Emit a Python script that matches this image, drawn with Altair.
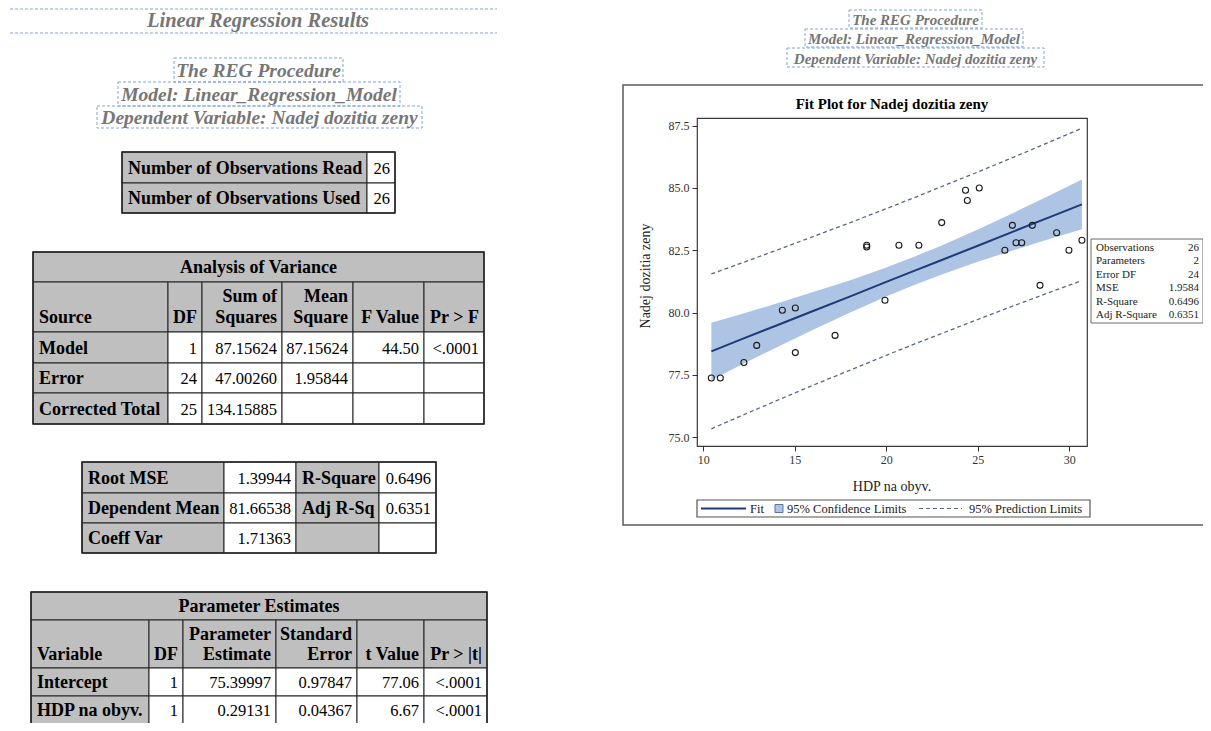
import altair as alt
import pandas as pd

# ---------------- data ----------------
hdp = [10.44, 10.93, 12.22, 12.92, 14.32, 15.03, 15.03, 17.20, 18.93, 18.93, 19.93, 20.69, 21.78,
       23.03, 24.33, 24.43, 25.08, 26.48, 26.89, 27.09, 27.40, 27.98, 28.40, 29.31, 29.98, 30.69]
life = [77.37, 77.37, 77.99, 78.68, 80.09, 80.18, 78.39, 79.08, 82.70, 82.63, 80.49, 82.70, 82.70,
        83.61, 84.91, 84.50, 85.00, 82.50, 83.50, 82.80, 82.80, 83.50, 81.09, 83.20, 82.50, 82.90]

grid_x = [10.44, 12, 14, 16, 18, 20, 21.52, 23, 25, 27, 29, 30.69]
fit_y = [78.44, 78.90, 79.48, 80.06, 80.64, 81.23, 81.67, 82.10, 82.68, 83.27, 83.85, 84.34]
ci_lo = [77.29, 77.87, 78.60, 79.31, 79.99, 80.64, 81.10, 81.52, 82.04, 82.51, 82.97, 83.34]
ci_hi = [79.59, 79.92, 80.36, 80.82, 81.29, 81.81, 82.24, 82.68, 83.33, 84.02, 84.73, 85.34]
pi_lo = [75.33, 75.83, 76.46, 77.08, 77.68, 78.28, 78.73, 79.15, 79.72, 80.28, 80.83, 81.28]
pi_hi = [81.55, 81.96, 82.50, 83.05, 83.60, 84.17, 84.61, 85.05, 85.64, 86.25, 86.87, 87.40]

x_ticks = [10, 15, 20, 25, 30]
y_ticks = [75.0, 77.5, 80.0, 82.5, 85.0, 87.5]

stat_labels = ["Observations", "Parameters", "Error DF", "MSE", "R-Square", "Adj R-Square"]
stat_values = ["26", "2", "24", "1.9584", "0.6496", "0.6351"]

obs_labels = ["Number of Observations Read", "Number of Observations Used"]
obs_values = ["26", "26"]

anova_headers = ["Source", "DF", "Sum of\nSquares", "Mean\nSquare", "F Value", "Pr > F"]
anova_sources = ["Model", "Error", "Corrected Total"]
anova_df = ["1", "24", "25"]
anova_ss = ["87.15624", "47.00260", "134.15885"]
anova_ms = ["87.15624", "1.95844", ""]
anova_f = ["44.50", "", ""]
anova_p = ["<.0001", "", ""]

fit_labels_a = ["Root MSE", "Dependent Mean", "Coeff Var"]
fit_values_a = ["1.39944", "81.66538", "1.71363"]
fit_labels_b = ["R-Square", "Adj R-Sq", ""]
fit_values_b = ["0.6496", "0.6351", ""]

pe_headers = ["Variable", "DF", "Parameter\nEstimate", "Standard\nError", "t Value", "Pr > |t|"]
pe_vars = ["Intercept", "HDP na obyv."]
pe_df = ["1", "1"]
pe_est = ["75.39997", "0.29131"]
pe_se = ["0.97847", "0.04367"]
pe_t = ["77.06", "6.67"]
pe_p = ["<.0001", "<.0001"]

main_title = "Linear Regression Results"
proc_titles = ["The REG Procedure", "Model: Linear_Regression_Model", "Dependent Variable: Nadej dozitia zeny"]
plot_title = "Fit Plot for Nadej dozitia zeny"
x_title = "HDP na obyv."
y_title = "Nadej dozitia zeny"
legend_labels = ["Fit", "95% Confidence Limits", "95% Prediction Limits"]

# ---------------- layout / style ----------------
PX0, PY0 = 697, 118          # page position of the plot area
W, H = 390, 328
FONT = "Liberation Serif"
GRAY = "#bfbfbf"
WHITE = "#ffffff"
BORDER = "#222222"
TITLE_GRAY = "#767676"
DASH_BLUE = "#7ea6e2"
NAVY = "#1f3a78"
BAND = "#adc4e4"
PRED = "#58678a"

rects, hollow, dboxes, rules, texts = [], [], [], [], []


def cell(x0, x1, y0, y1, fill, stroke=BORDER, sw=1.0):
    rects.append(dict(x=x0 - PX0, x2=x1 - PX0, y=y0 - PY0, y2=y1 - PY0, fill=fill, stroke=stroke, sw=sw))


def frame(x0, x1, y0, y1, stroke=BORDER, sw=1.5):
    hollow.append(dict(x=x0 - PX0, x2=x1 - PX0, y=y0 - PY0, y2=y1 - PY0, stroke=stroke, sw=sw))


def dbox(x0, x1, y0, y1):
    dboxes.append(dict(x=x0 - PX0, x2=x1 - PX0, y=y0 - PY0, y2=y1 - PY0))


def txt(x, y, t, align="left", weight="normal", style="normal", size=16.5, color="#000000", angle=0):
    if t == "":
        return
    texts.append(dict(x=x - PX0, y=y - PY0, text=t, align=align, weight=weight, style=style,
                      size=size, color=color, angle=angle))


BOLD = 18
REG = 16.5


def table(cols, rows_y, title, headers, body, line_gap=20.5, head_pad=14.5):
    r = 0
    if title:
        cell(cols[0], cols[-1], rows_y[0], rows_y[1], GRAY)
        txt((cols[0] + cols[-1]) / 2, (rows_y[0] + rows_y[1]) / 2 + 1, title, "center", "bold", size=BOLD)
        r = 1
    if headers:
        y0, y1 = rows_y[r], rows_y[r + 1]
        for j, h in enumerate(headers):
            cell(cols[j], cols[j + 1], y0, y1, GRAY)
            for k, line in enumerate(reversed(h.split("\n"))):
                yy = y1 - head_pad - k * line_gap
                if j == 0:
                    txt(cols[j] + 6, yy, line, "left", "bold", size=BOLD)
                else:
                    txt(cols[j + 1] - 5, yy, line, "right", "bold", size=BOLD)
        r += 1
    for i, row in enumerate(body):
        y0, y1 = rows_y[r + i], rows_y[r + i + 1]
        ym = (y0 + y1) / 2 + 1
        for j, (val, kind) in enumerate(row):
            if kind == "label":
                cell(cols[j], cols[j + 1], y0, y1, GRAY)
                txt(cols[j] + 6, ym, val, "left", "bold", size=BOLD)
            else:
                cell(cols[j], cols[j + 1], y0, y1, WHITE)
                txt(cols[j + 1] - 5, ym, val, "right", "normal", size=REG)
    frame(cols[0], cols[-1], rows_y[0], rows_y[-1])


# left titles
rules.append(dict(x=10 - PX0, x2=497 - PX0, y=9 - PY0))
rules.append(dict(x=10 - PX0, x2=497 - PX0, y=33 - PY0))
txt(258, 21, main_title, "center", "bold", "italic", 20.5, TITLE_GRAY)
left_boxes = [(174, 343, 58, 82), (118, 400, 82, 106), (97, 422, 106, 128)]
for t, (a, b, c, d) in zip(proc_titles, left_boxes):
    dbox(a, b, c, d)
    txt((a + b) / 2, (c + d) / 2 + 1, t, "center", "bold", "italic", 19.5, TITLE_GRAY)

# right titles
right_boxes = [(849, 982, 10, 28), (805, 1023, 29, 47), (787, 1044, 48, 67)]
for t, (a, b, c, d) in zip(proc_titles, right_boxes):
    dbox(a, b, c, d)
    txt((a + b) / 2, (c + d) / 2 + 1, t, "center", "bold", "italic", 15, TITLE_GRAY)

# tables
table([122, 367, 395], [152, 183, 213], None, None,
      [[(l, "label"), (v, "val")] for l, v in zip(obs_labels, obs_values)])
table([33, 168, 202, 282, 353, 424, 484], [252, 282, 332, 363, 393, 424], "Analysis of Variance",
      anova_headers,
      [[(s, "label"), (d, "val"), (ss, "val"), (ms, "val"), (f, "val"), (p, "val")]
       for s, d, ss, ms, f, p in zip(anova_sources, anova_df, anova_ss, anova_ms, anova_f, anova_p)])
table([82, 224, 296, 379, 436], [462, 493, 523, 553], None, None,
      [[(a, "label"), (va, "val"), (b, "label"), (vb, "val")]
       for a, va, b, vb in zip(fit_labels_a, fit_values_a, fit_labels_b, fit_values_b)])
table([31, 149, 183, 276, 357, 424, 487], [592, 620, 668, 696, 724], "Parameter Estimates",
      pe_headers,
      [[(v, "label"), (d, "val"), (e, "val"), (s, "val"), (t, "val"), (p, "val")]
       for v, d, e, s, t, p in zip(pe_vars, pe_df, pe_est, pe_se, pe_t, pe_p)], line_gap=20, head_pad=13.5)

# plot frame, titles
frame(623, 1207, 85, 525, stroke="#5a5a5a", sw=1.5)
txt(892, 104, plot_title, "center", "bold", size=15)
txt(892, 487, x_title, "center", size=14, color="#222222")
txt(646, 276, y_title, "center", size=14, color="#222222", angle=270)

# stats inset
cell(1091, 1203, 239, 323, WHITE, stroke="#6a6a6a", sw=1)
for i, (l, v) in enumerate(zip(stat_labels, stat_values)):
    yy = 247.5 + i * 13.5
    txt(1096, yy, l, "left", size=11, color="#222222")
    txt(1199, yy, v, "right", size=11, color="#222222")

# legend
cell(697, 1090, 500, 517, WHITE, stroke="#555555", sw=1.2)
cell(775, 783, 504.5, 512.5, BAND, stroke="#5d74a0", sw=1)
txt(750, 509, legend_labels[0], "left", size=12.5, color="#222222")
txt(787, 509, legend_labels[1], "left", size=12.5, color="#222222")
txt(969, 509, legend_labels[2], "left", size=12.5, color="#222222")
leg_solid = pd.DataFrame([dict(x=701 - PX0, x2=746 - PX0, y=508.5 - PY0)])
leg_dash = pd.DataFrame([dict(x=919 - PX0, x2=962 - PX0, y=508.5 - PY0)])

# ---------------- chart ----------------
xs = alt.Scale(domain=[9.656, 30.968], nice=False, zero=False)
ys = alt.Scale(domain=[74.64, 87.81], nice=False, zero=False)
x_axis = alt.Axis(values=x_ticks, title=None, grid=False, domain=False, tickSize=5, labelPadding=3,
                  format="d", labelFlush=False, labelOverlap=False)
y_axis = alt.Axis(values=y_ticks, title=None, grid=False, domain=False, tickSize=5, labelPadding=3,
                  format=".1f", labelFlush=False, labelOverlap=False)

pts = pd.DataFrame(dict(x=hdp, y=life))
curve = pd.DataFrame(dict(x=grid_x, fit=fit_y, ci_lo=ci_lo, ci_hi=ci_hi, pi_lo=pi_lo, pi_hi=pi_hi))

PXX = lambda f: alt.X(f"{f}:Q", scale=None, axis=None)
PXY = lambda f: alt.Y(f"{f}:Q", scale=None, axis=None)

rect_df = pd.DataFrame(rects)
hollow_df = pd.DataFrame(hollow)
dbox_df = pd.DataFrame(dboxes)
rule_df = pd.DataFrame(rules)
text_df = pd.DataFrame(texts)

layers = []
layers.append(alt.Chart(rect_df).mark_rect().encode(
    x=PXX("x"), x2="x2", y=PXY("y"), y2="y2",
    fill=alt.Fill("fill:N", scale=None, legend=None),
    stroke=alt.Stroke("stroke:N", scale=None, legend=None),
    strokeWidth=alt.StrokeWidth("sw:Q", scale=None, legend=None)))
layers.append(alt.Chart(hollow_df).mark_rect(fill="transparent").encode(
    x=PXX("x"), x2="x2", y=PXY("y"), y2="y2",
    stroke=alt.Stroke("stroke:N", scale=None, legend=None),
    strokeWidth=alt.StrokeWidth("sw:Q", scale=None, legend=None)))
layers.append(alt.Chart(dbox_df).mark_rect(fill="transparent", stroke=DASH_BLUE, strokeWidth=1,
                                           strokeDash=[3, 2]).encode(
    x=PXX("x"), x2="x2", y=PXY("y"), y2="y2"))
layers.append(alt.Chart(rule_df).mark_rule(stroke=DASH_BLUE, strokeWidth=1, strokeDash=[3, 2]).encode(
    x=PXX("x"), x2="x2", y=PXY("y")))

base = alt.Chart(curve)
layers.append(base.mark_area(color=BAND, opacity=1).encode(
    x=alt.X("x:Q", scale=xs, axis=x_axis), y=alt.Y("ci_lo:Q", scale=ys, axis=y_axis), y2="ci_hi:Q"))
layers.append(base.mark_line(color=PRED, strokeWidth=1.3, strokeDash=[4, 3]).encode(
    x=alt.X("x:Q", scale=xs, axis=x_axis), y=alt.Y("pi_lo:Q", scale=ys, axis=y_axis)))
layers.append(base.mark_line(color=PRED, strokeWidth=1.3, strokeDash=[4, 3]).encode(
    x=alt.X("x:Q", scale=xs, axis=x_axis), y=alt.Y("pi_hi:Q", scale=ys, axis=y_axis)))
layers.append(base.mark_line(color=NAVY, strokeWidth=2).encode(
    x=alt.X("x:Q", scale=xs, axis=x_axis), y=alt.Y("fit:Q", scale=ys, axis=y_axis)))
layers.append(alt.Chart(pts).mark_point(shape="circle", filled=False, color="#1a1a1a", size=36,
                                        strokeWidth=1.1, opacity=1).encode(
    x=alt.X("x:Q", scale=xs, axis=x_axis), y=alt.Y("y:Q", scale=ys, axis=y_axis)))

layers.append(alt.Chart(leg_solid).mark_rule(stroke=NAVY, strokeWidth=2).encode(
    x=PXX("x"), x2="x2", y=PXY("y")))
layers.append(alt.Chart(leg_dash).mark_rule(stroke=PRED, strokeWidth=1.2, strokeDash=[4, 3]).encode(
    x=PXX("x"), x2="x2", y=PXY("y")))

for (align, weight, style, angle), sub in text_df.groupby(["align", "weight", "style", "angle"]):
    layers.append(alt.Chart(sub.reset_index(drop=True)).mark_text(
        align=align, baseline="middle", font=FONT, fontWeight=weight, fontStyle=style, angle=int(angle)
    ).encode(
        x=PXX("x"), y=PXY("y"), text="text:N",
        size=alt.Size("size:Q", scale=None, legend=None),
        color=alt.Color("color:N", scale=None, legend=None)))

chart = alt.layer(*layers).properties(
    width=W, height=H,
    autosize=alt.AutoSizeParams(type="none"),
    padding={"left": PX0 - 8, "top": PY0 - 8, "right": 1195 - (PX0 - 8) - W, "bottom": 715 - (PY0 - 8) - H},
    background="white",
).configure_view(stroke="#3a3a3a", strokeWidth=1.2, fill="white").configure_axis(
    labelFont=FONT, labelFontSize=12, labelColor="#333333", tickColor="#333333", tickWidth=1
)

chart.save("out.html", embed_options={"renderer": "svg", "actions": False})
